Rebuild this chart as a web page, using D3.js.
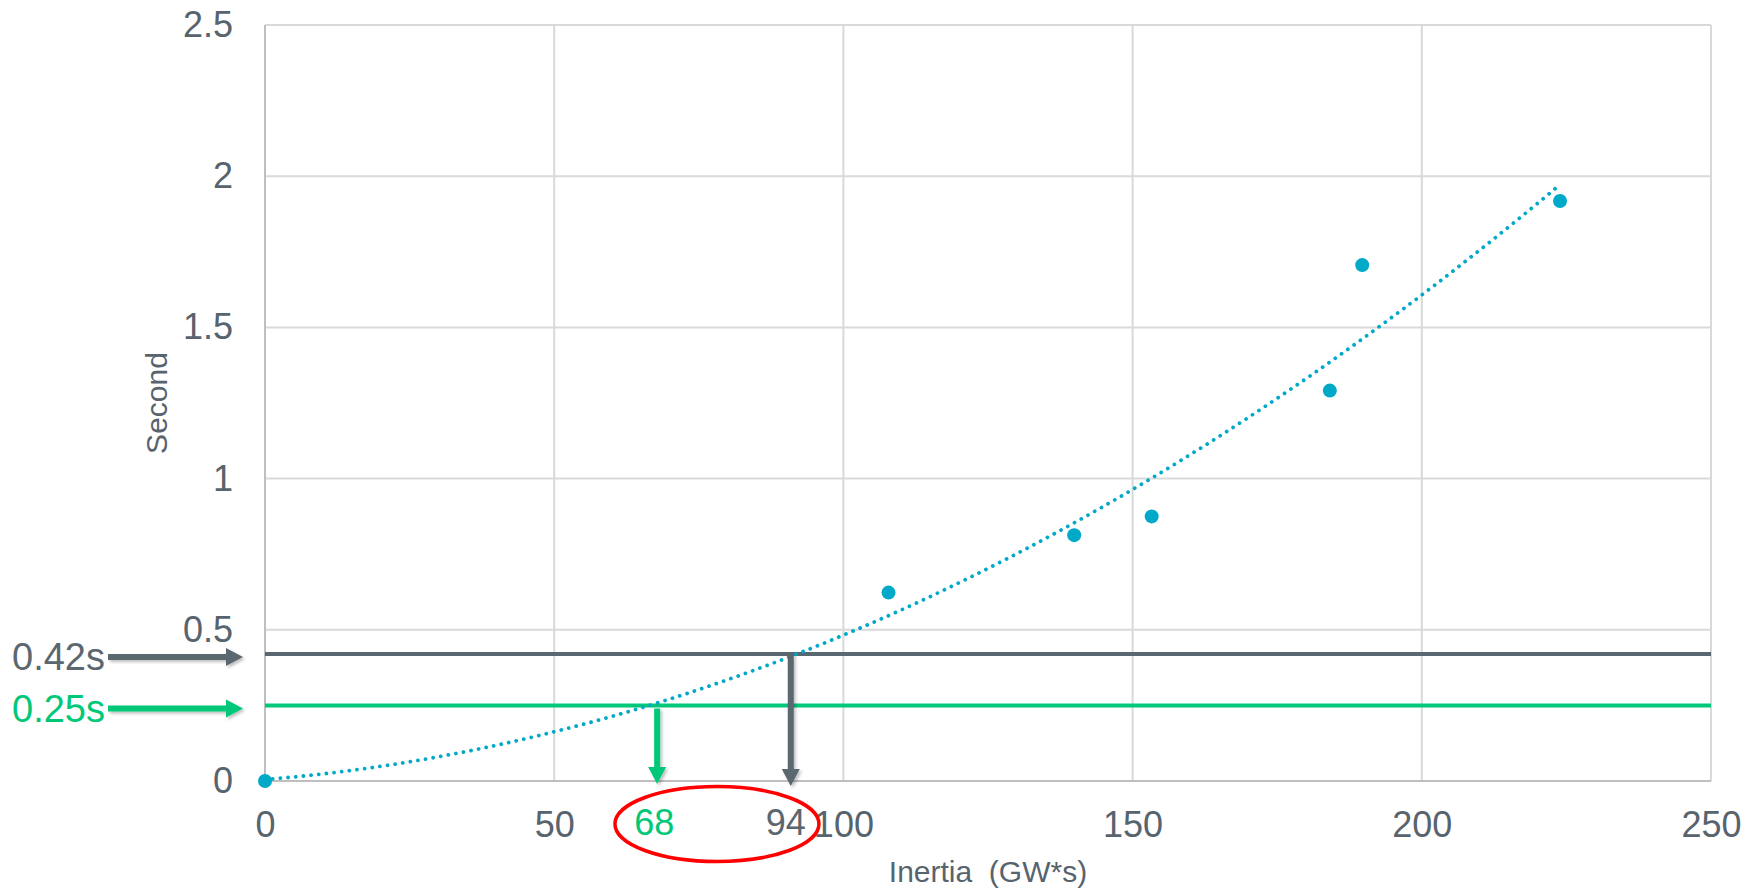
<!DOCTYPE html>
<html><head><meta charset="utf-8">
<script src="https://cdn.jsdelivr.net/npm/d3@7"></script>
<style>
body{margin:0;background:#fff;}
text{font-family:"Liberation Sans",Arial,sans-serif;}
</style>
</head><body><svg id="chart" width="1757" height="888"></svg>
<script>
// ---- data ----
const inertia = [0, 107.8, 139.9, 153.3, 184.1, 189.7, 223.9];
const seconds = [0, 0.623, 0.813, 0.875, 1.291, 1.706, 1.918];
const xTicks = [0, 50, 100, 150, 200, 250];
const yTicks = [0, 0.5, 1, 1.5, 2, 2.5];
const thresholdValues = [0.42, 0.25];
const thresholdLabels = ["0.42s", "0.25s"];
const crossingInertia = [90.9, 67.8];
const crossingLabels = ["94", "68"];
const thresholdColors = ["#5b6770", "#00c878"];

const W = 1757, H = 888;
const margin = {left: 265, top: 25, right: 46, bottom: 107};
const pw = W - margin.left - margin.right, ph = H - margin.top - margin.bottom;
const textColor = "#57636d";
const dotColor = "#00a9c8";

const svg = d3.select("#chart");
const defs = svg.append("defs");
const f = defs.append("filter").attr("id","shadow").attr("x","-50%").attr("y","-50%").attr("width","200%").attr("height","200%");
f.append("feDropShadow").attr("dx",2).attr("dy",2).attr("stdDeviation",1.5).attr("flood-color","#000").attr("flood-opacity",0.25);

const g = svg.append("g").attr("transform", `translate(${margin.left},${margin.top})`);
const x = d3.scaleLinear().domain([0, 250]).range([0, pw]);
const y = d3.scaleLinear().domain([0, 2.5]).range([ph, 0]);

// gridlines
g.append("g").selectAll("line").data(yTicks.filter(d => d > 0)).join("line")
  .attr("x1", 0).attr("x2", pw).attr("y1", d => y(d)).attr("y2", d => y(d))
  .attr("stroke", "#d9d9d9").attr("stroke-width", 2);
g.append("g").selectAll("line").data(xTicks.filter(d => d > 0)).join("line")
  .attr("x1", d => x(d)).attr("x2", d => x(d)).attr("y1", 0).attr("y2", ph)
  .attr("stroke", "#d9d9d9").attr("stroke-width", 2);

// axes via d3
const yAxis = g.append("g").call(d3.axisLeft(y).tickValues(yTicks).tickSize(0).tickPadding(32).tickFormat(d3.format("~g")));
const xAxis = g.append("g").attr("transform", `translate(0,${ph})`)
  .call(d3.axisBottom(x).tickValues(xTicks).tickSize(0).tickPadding(30).tickFormat(d3.format("~g")));
[xAxis, yAxis].forEach(a => {
  a.select(".domain").attr("stroke", "#bfbfbf").attr("stroke-width", 2);
  a.selectAll("text").attr("fill", textColor).attr("font-size", 36)
   .attr("font-family", '"Liberation Sans",Arial,sans-serif');
});
xAxis.selectAll("text").attr("dy", "0.71em");
yAxis.select(".domain").attr("d", `M0,${ph}V0`);
xAxis.select(".domain").attr("d", `M0,0H${pw}`);

// axis titles
g.append("text").attr("x", pw/2).attr("y", ph + 101).attr("text-anchor", "middle")
  .attr("fill", textColor).attr("font-size", 30).text("Inertia\u00a0\u00a0(GW*s)");
g.append("text").attr("transform", `translate(${-98},${ph/2}) rotate(-90)`).attr("text-anchor", "middle")
  .attr("fill", textColor).attr("font-size", 30).text("Second");

// threshold lines
g.append("g").selectAll("line").data(thresholdValues).join("line")
  .attr("x1", 0).attr("x2", pw).attr("y1", d => y(d)).attr("y2", d => y(d))
  .attr("stroke", (d,i) => thresholdColors[i]).attr("stroke-width", 4);

// polynomial (order 2) least-squares trendline
function polyfit2(xs, ys){
  const S = k => d3.sum(xs, v => Math.pow(v, k));
  const T = k => d3.sum(xs, (v,i) => Math.pow(v, k) * ys[i]);
  const A = [[S(0),S(1),S(2),T(0)],[S(1),S(2),S(3),T(1)],[S(2),S(3),S(4),T(2)]];
  for (let i=0;i<3;i++){
    for (let j=i+1;j<3;j++){
      const r = A[j][i]/A[i][i];
      for (let k=i;k<4;k++) A[j][k] -= r*A[i][k];
    }
  }
  const c = [0,0,0];
  for (let i=2;i>=0;i--){
    let s = A[i][3];
    for (let k=i+1;k<3;k++) s -= A[i][k]*c[k];
    c[i] = s/A[i][i];
  }
  return v => c[0] + c[1]*v + c[2]*v*v;
}
const trend = polyfit2(inertia, seconds);
const xMax = d3.max(inertia);
const trendPts = d3.range(0, 201).map(i => { const v = xMax*i/200; return [v, trend(v)]; });
g.append("path").datum(trendPts)
  .attr("d", d3.line().x(d => x(d[0])).y(d => y(d[1])))
  .attr("fill", "none").attr("stroke", dotColor).attr("stroke-width", 3.8)
  .attr("stroke-linecap", "round").attr("stroke-dasharray", "0.01 7.7");

// points
g.append("g").selectAll("circle").data(inertia).join("circle")
  .attr("cx", d => x(d)).attr("cy", (d,i) => y(seconds[i])).attr("r", 7).attr("fill", dotColor);

// arrow helper
function arrow(x1, y1, x2, y2, color){
  const len = Math.hypot(x2-x1, y2-y1), ux = (x2-x1)/len, uy = (y2-y1)/len;
  const px = -uy, py = ux, sw = 3, hw = 9, hl = 17;
  const bx = x2 - ux*hl, by = y2 - uy*hl;
  const pts = [
    [x1+px*sw, y1+py*sw], [bx+px*sw, by+py*sw], [bx+px*hw, by+py*hw], [x2, y2],
    [bx-px*hw, by-py*hw], [bx-px*sw, by-py*sw], [x1-px*sw, y1-py*sw]
  ];
  g.append("path").attr("d", "M" + pts.map(p => p.join(",")).join("L") + "Z")
    .attr("fill", color).attr("filter", "url(#shadow)");
}

// left annotations
thresholdValues.forEach((v, i) => {
  const yy = y(v) + 3;
  arrow(-157, yy, -22, yy, thresholdColors[i]);
  g.append("text").attr("x", -160).attr("y", yy).attr("dy", "0.35em").attr("text-anchor", "end")
    .attr("fill", thresholdColors[i]).attr("font-size", 38).text(thresholdLabels[i]);
});

// vertical arrows & crossing labels
crossingInertia.forEach((c, i) => {
  const xx = x(c);
  arrow(xx, y(thresholdValues[i]) + (i === 0 ? 0 : 3), xx, ph + 5 - i*2, thresholdColors[i]);
  g.append("text").attr("x", xx - (i === 0 ? 5 : 3)).attr("y", ph + 54).attr("text-anchor", "middle")
    .attr("fill", thresholdColors[i]).attr("font-size", 36).text(crossingLabels[i]);
});

// red ellipse
const ex = (x(crossingInertia[0]) + x(crossingInertia[1]))/2 - 7;
g.append("ellipse").attr("cx", ex).attr("cy", ph + 43).attr("rx", 102).attr("ry", 37.5)
  .attr("fill", "none").attr("stroke", "#ff0000").attr("stroke-width", 3.5);
</script>
</body></html>
